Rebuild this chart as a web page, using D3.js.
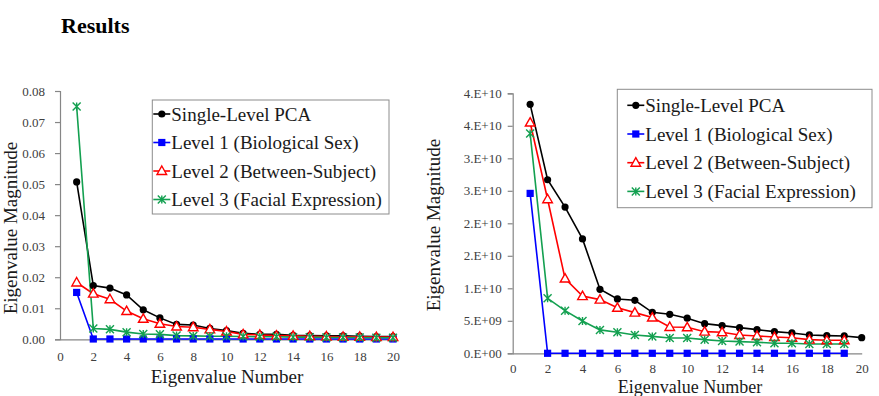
<!DOCTYPE html>
<html>
<head>
  <meta charset="utf-8">
  <script src="https://d3js.org/d3.v7.min.js"></script>
  <style>
    body { margin: 0; background: #fff; }
    svg { font-family: "Liberation Serif", "Times New Roman", serif; }
  </style>
</head>
<body>
<script type="text/javascript">

  // x positions (eigenvalue number)
  var eigenNumbers = d3.range(1, 21);

  // Left panel series
  var leftSingle = [0.0507, 0.0173, 0.0165, 0.0143, 0.0095, 0.0069, 0.0048, 0.0046, 0.0035, 0.0028,
                    0.0019, 0.0016, 0.0016, 0.0013, 0.0012, 0.0011, 0.0011, 0.0010, 0.0009, 0.0009];
  var leftLevel1 = [0.0151, 0.0001, 0.0001, 0.0001, 0.0001, 0.0001, 0.0001, 0.0001, 0.0001, 0.0001,
                    0.0001, 0.0001, 0.0001, 0.0001, 0.0001, 0.0001, 0.0001, 0.0001, 0.0001, 0.0001];
  var leftLevel2 = [0.0183, 0.0147, 0.0129, 0.0091, 0.0066, 0.0050, 0.0041, 0.0039, 0.0032, 0.0025,
                    0.0016, 0.0014, 0.0012, 0.0011, 0.0010, 0.0009, 0.0008, 0.0008, 0.0007, 0.0007];
  var leftLevel3 = [0.0750, 0.0035, 0.0032, 0.0023, 0.0017, 0.0016, 0.0012, 0.0011, 0.0010, 0.0010,
                    0.0009, 0.0008, 0.0008, 0.0007, 0.0007, 0.0006, 0.0006, 0.0006, 0.0005, 0.0005];

  // Right panel series
  var rightSingle = [3.83e10, 2.67e10, 2.25e10, 1.76e10, 9.85e9, 8.36e9, 8.15e9, 6.3e9, 6.0e9, 5.4e9,
                     4.56e9, 4.26e9, 3.95e9, 3.64e9, 3.33e9, 3.13e9, 2.82e9, 2.72e9, 2.67e9, 2.41e9];
  var rightLevel1 = [2.46e10, 0, 0, 0, 0, 0, 0, 0, 0, 0, 0, 0, 0, 0, 0, 0, 0, 0, 0];
  var rightLevel2 = [3.55e10, 2.37e10, 1.15e10, 8.8e9, 8.26e9, 7.0e9, 6.26e9, 5.5e9, 4.05e9, 4.0e9,
                     3.33e9, 3.23e9, 2.82e9, 2.67e9, 2.5e9, 2.4e9, 2.1e9, 2.0e9, 2.0e9];
  var rightLevel3 = [3.38e10, 8.46e9, 6.56e9, 4.97e9, 3.6e9, 3.23e9, 2.82e9, 2.6e9, 2.36e9, 2.36e9,
                     2.1e9, 1.9e9, 1.8e9, 1.7e9, 1.54e9, 1.54e9, 1.44e9, 1.44e9, 1.44e9];

  // tick values / labels
  var xTicks = d3.range(0, 21, 2);
  var leftYTicks = [0, 0.01, 0.02, 0.03, 0.04, 0.05, 0.06, 0.07, 0.08];
  var rightYTicks = [0, 5e9, 1e10, 1.5e10, 2e10, 2.5e10, 3e10, 3.5e10, 4e10];
  var rightYLabels = ["0.E+00", "5.E+09", "1.E+10", "2.E+10", "2.E+10", "3.E+10", "3.E+10", "4.E+10", "4.E+10"];

  var seriesNames = ["Single-Level PCA", "Level 1 (Biological Sex)", "Level 2 (Between-Subject)", "Level 3 (Facial Expression)"];
  var seriesColors = ["#000000", "#0000ff", "#ff0000", "#13a050"];
  var seriesMarkers = ["circle", "square", "triangle", "star"];

  var svg = d3.select("body").append("svg")
      .attr("width", 879)
      .attr("height", 396);

  svg.append("text")
      .attr("x", 61)
      .attr("y", 33)
      .style("font-size", "22px")
      .style("font-weight", "bold")
      .text("Results");

  function drawMarker(g, type, color, x, y) {
    if (type === "circle") {
      g.append("circle").attr("cx", x).attr("cy", y).attr("r", 3.6)
        .attr("fill", color);
    } else if (type === "square") {
      g.append("rect").attr("x", x - 3.6).attr("y", y - 3.6)
        .attr("width", 7.2).attr("height", 7.2).attr("fill", color);
    } else if (type === "triangle") {
      g.append("path")
        .attr("d", "M" + x + "," + (y - 5) + "L" + (x + 4.8) + "," + (y + 3.5) + "L" + (x - 4.8) + "," + (y + 3.5) + "Z")
        .attr("fill", "#fff").attr("stroke", color).attr("stroke-width", 1.4);
    } else {
      var s = 4;
      g.append("path")
        .attr("d", "M" + (x - s) + "," + (y - s) + "L" + (x + s) + "," + (y + s) +
                   "M" + (x - s) + "," + (y + s) + "L" + (x + s) + "," + (y - s) +
                   "M" + x + "," + (y - s) + "L" + x + "," + (y + s))
        .attr("fill", "none").attr("stroke", color).attr("stroke-width", 1.4);
    }
  }

  function drawPanel(opts) {
    var x = d3.scaleLinear().domain([0, 20]).range([opts.left, opts.right]);
    var y = d3.scaleLinear().domain([0, opts.yMax]).range([opts.bottom, opts.top]);
    var g = svg.append("g");

    // y axis
    var yAxis = d3.axisLeft(y).tickValues(opts.yTicks).tickSize(5).tickPadding(opts.yPad)
        .tickFormat(opts.yFormat);
    var ya = g.append("g").attr("transform", "translate(" + opts.left + ",0)").call(yAxis)
        .attr("font-family", "Liberation Serif")
        .attr("font-size", 13);
    ya.select(".domain").attr("stroke", "#868686").attr("stroke-width", 1.2);
    ya.selectAll(".tick line").attr("stroke", "#868686").attr("stroke-width", 1.2);
    ya.selectAll(".tick text").attr("fill", "#404040");

    // x axis
    var xAxis = d3.axisBottom(x).tickValues(xTicks).tickSize(0).tickPadding(opts.xPad);
    var xa = g.append("g").attr("transform", "translate(0," + opts.bottom + ")").call(xAxis)
        .attr("font-family", "Liberation Serif")
        .attr("font-size", 13);
    xa.select(".domain").attr("stroke", "#868686").attr("stroke-width", 1.2);
    xa.selectAll(".tick text").attr("fill", "#404040");

    // axis titles
    g.append("text")
      .attr("transform", "translate(" + opts.yTitleX + "," + opts.yTitleY + ") rotate(-90)")
      .attr("text-anchor", "middle")
      .style("font-size", "19px")
      .attr("fill", "#1a1a1a")
      .text("Eigenvalue Magnitude");
    g.append("text")
      .attr("x", opts.xTitleX)
      .attr("y", opts.xTitleY)
      .attr("text-anchor", "middle")
      .style("font-size", opts.xTitleSize)
      .attr("fill", "#1a1a1a")
      .text("Eigenvalue Number");

    // series
    var line = d3.line()
        .x(function (d, i) { return x(eigenNumbers[i]); })
        .y(function (d) { return y(d); });

    opts.series.forEach(function (vals, k) {
      g.append("path").datum(vals)
        .attr("d", line)
        .attr("fill", "none")
        .attr("stroke", seriesColors[k])
        .attr("stroke-width", 1.6);
    });
    opts.series.forEach(function (vals, k) {
      vals.forEach(function (v, i) {
        drawMarker(g, seriesMarkers[k], seriesColors[k], x(eigenNumbers[i]), y(v));
      });
    });

    // legend
    var L = opts.legend;
    g.append("rect")
      .attr("x", L.x).attr("y", L.y).attr("width", L.w).attr("height", L.h)
      .attr("fill", "#fff").attr("stroke", "#8c8c8c").attr("stroke-width", 1);
    seriesNames.forEach(function (name, k) {
      var cy = L.y + L.first + k * L.step;
      g.append("line")
        .attr("x1", L.x + L.lineStart).attr("x2", L.x + L.lineStart + 17)
        .attr("y1", cy).attr("y2", cy)
        .attr("stroke", seriesColors[k]).attr("stroke-width", 1.6);
      drawMarker(g, seriesMarkers[k], seriesColors[k], L.x + L.lineStart + 8.5, cy);
      g.append("text")
        .attr("x", L.x + L.lineStart + 18)
        .attr("y", cy)
        .attr("dy", "0.35em")
        .style("font-size", "19px")
        .attr("fill", "#1a1a1a")
        .text(name);
    });
  }

  drawPanel({
    left: 60, right: 393, top: 91, bottom: 339.3,
    yMax: 0.08, yTicks: leftYTicks, yFormat: d3.format(".2f"), yPad: 10, xPad: 12,
    yTitleX: 17, yTitleY: 228, xTitleX: 227, xTitleY: 383, xTitleSize: "19px",
    series: [leftSingle, leftLevel1, leftLevel2, leftLevel3],
    legend: { x: 152.3, y: 100, w: 236.7, h: 114, first: 14, step: 28.5, lineStart: 1 }
  });

  drawPanel({
    left: 512.7, right: 861.7, top: 93.3, bottom: 353.3,
    yMax: 4e10, yTicks: rightYTicks,
    yFormat: function (d, i) { return rightYLabels[i]; }, yPad: 6, xPad: 10,
    yTitleX: 440, yTitleY: 225, xTitleX: 690, xTitleY: 393, xTitleSize: "18px",
    series: [rightSingle, rightLevel1, rightLevel2, rightLevel3],
    legend: { x: 617.3, y: 89.3, w: 254.7, h: 118.4, first: 16, step: 28.7, lineStart: 10 }
  });

</script>
</body>
</html>
